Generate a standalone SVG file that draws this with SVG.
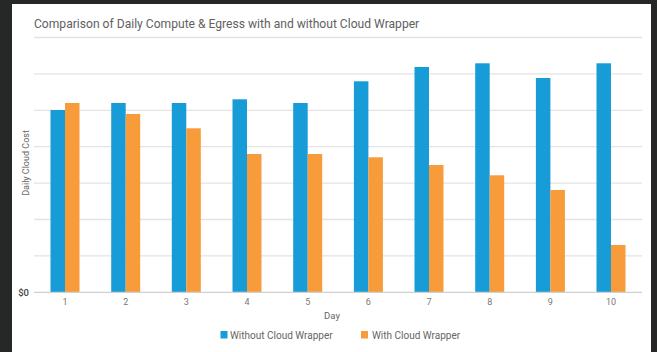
<svg xmlns="http://www.w3.org/2000/svg" width="657" height="352" viewBox="0 0 657 352">
<style>
.grid{stroke:#e3e3e3;stroke-width:1.3}
.b{fill:#189cd8}
.o{fill:#f89b3a}
.t{font-family:Roboto,"Liberation Sans",sans-serif}
.xl{font-size:9px;fill:#777;text-anchor:middle}
.lg{font-size:10px;fill:#666}
</style>
<rect x="0" y="0" width="657" height="352" fill="#262727"/>
<rect x="12" y="4" width="639" height="348" fill="#ffffff"/>
<text class="t" x="34" y="28" font-size="12.1" fill="#616161">Comparison of Daily Compute &amp; Egress with and without Cloud Wrapper</text>
<g id="grid">
<line class="grid" x1="34" y1="37.5" x2="642" y2="37.5"/>
<line class="grid" x1="34" y1="73.9" x2="642" y2="73.9"/>
<line class="grid" x1="34" y1="110.3" x2="642" y2="110.3"/>
<line class="grid" x1="34" y1="146.7" x2="642" y2="146.7"/>
<line class="grid" x1="34" y1="183.1" x2="642" y2="183.1"/>
<line class="grid" x1="34" y1="219.5" x2="642" y2="219.5"/>
<line class="grid" x1="34" y1="255.9" x2="642" y2="255.9"/>
</g>
<text class="t" x="29" y="295.5" font-size="9.5" fill="#444" text-anchor="end" font-weight="500">$0</text>
<text class="t" font-size="9" fill="#666" text-anchor="middle" transform="translate(28.5 163) rotate(-90)">Daily Cloud Cost</text>
<g id="bars">
<rect class="b" x="50.5" y="110" width="14.5" height="182"/><rect class="o" x="65" y="103" width="14.5" height="189"/>
<rect class="b" x="111.2" y="103" width="14.5" height="189"/><rect class="o" x="125.7" y="114" width="14.5" height="178"/>
<rect class="b" x="171.8" y="103" width="14.5" height="189"/><rect class="o" x="186.3" y="128.3" width="14.5" height="163.7"/>
<rect class="b" x="232.5" y="99.3" width="14.5" height="192.7"/><rect class="o" x="247" y="154" width="14.5" height="138"/>
<rect class="b" x="293.2" y="103" width="14.5" height="189"/><rect class="o" x="307.7" y="154" width="14.5" height="138"/>
<rect class="b" x="353.9" y="81.3" width="14.5" height="210.7"/><rect class="o" x="368.4" y="157.3" width="14.5" height="134.7"/>
<rect class="b" x="414.5" y="67" width="14.5" height="225"/><rect class="o" x="429" y="165" width="14.5" height="127"/>
<rect class="b" x="475.2" y="63.3" width="14.5" height="228.7"/><rect class="o" x="489.7" y="175.3" width="14.5" height="116.7"/>
<rect class="b" x="535.9" y="78" width="14.5" height="214"/><rect class="o" x="550.4" y="190" width="14.5" height="102"/>
<rect class="b" x="596.5" y="63.3" width="14.5" height="228.7"/><rect class="o" x="611" y="245" width="14.5" height="47"/>
</g>
<line x1="34" y1="292.3" x2="642" y2="292.3" stroke="#d0d0d0" stroke-width="1.3"/>
<g id="xlabels" class="t">
<text class="xl" x="65" y="305">1</text>
<text class="xl" x="125.7" y="305">2</text>
<text class="xl" x="186.3" y="305">3</text>
<text class="xl" x="247" y="305">4</text>
<text class="xl" x="307.7" y="305">5</text>
<text class="xl" x="368.4" y="305">6</text>
<text class="xl" x="429" y="305">7</text>
<text class="xl" x="489.7" y="305">8</text>
<text class="xl" x="550.4" y="305">9</text>
<text class="xl" x="611" y="305">10</text>
</g>
<text class="t" x="332" y="318.5" font-size="9.5" fill="#666" text-anchor="middle">Day</text>
<g id="legend">
<rect class="b" x="220.5" y="331" width="7" height="7.5"/>
<text class="t lg" x="230" y="338.5">Without Cloud Wrapper</text>
<rect class="o" x="361" y="331" width="7" height="7.5"/>
<text class="t lg" x="372" y="338.5">With Cloud Wrapper</text>
</g>
</svg>
